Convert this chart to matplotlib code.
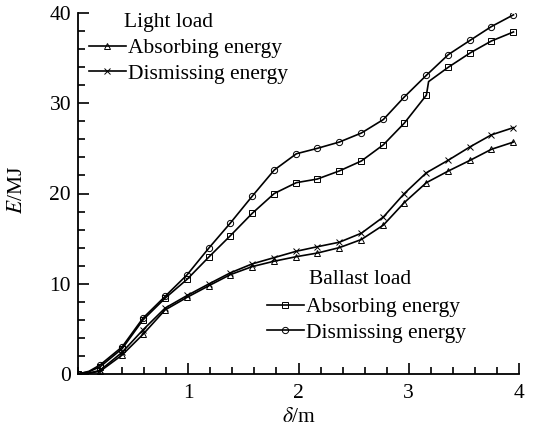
import matplotlib
matplotlib.use("Agg")
import matplotlib.pyplot as plt
from matplotlib.ticker import MultipleLocator, FixedLocator

plt.rcParams["font.family"] = ["Liberation Serif", "DejaVu Serif"]
plt.rcParams["mathtext.fontset"] = "stix"

FS = 15.5

# displacement (m) at the marked samples
delta_marks = [0.00, 0.20, 0.40, 0.59, 0.79, 0.99, 1.19, 1.38, 1.58, 1.78, 1.98,
               2.17, 2.37, 2.57, 2.77, 2.96, 3.16, 3.36, 3.56, 3.75, 3.95]

# light load
delta_light = [0.00, 0.10, 0.20, 0.40, 0.59, 0.79, 0.99, 1.19, 1.38, 1.58, 1.78, 1.98,
               2.17, 2.37, 2.57, 2.77, 2.96, 3.16, 3.36, 3.56, 3.75, 3.95]
light_absorb = [0.0, 0.1, 0.3, 2.1, 4.4, 7.1, 8.5, 9.8, 11.0, 11.9, 12.5, 13.0,
                13.4, 14.0, 14.9, 16.5, 19.0, 21.2, 22.5, 23.7, 24.9, 25.7]
light_dismiss = [0.0, 0.1, 0.4, 2.4, 4.9, 7.3, 8.7, 10.0, 11.2, 12.2, 12.9, 13.6,
                 14.1, 14.6, 15.6, 17.4, 20.0, 22.3, 23.7, 25.2, 26.5, 27.3]

# ballast load
delta_ballast_abs = [0.00, 0.10, 0.20, 0.40, 0.59, 0.79, 0.99, 1.19, 1.38, 1.58, 1.78, 1.98,
                     2.17, 2.37, 2.57, 2.77, 2.96, 3.16, 3.18, 3.36, 3.56, 3.75, 3.95]
ballast_absorb = [0.0, 0.25, 0.8, 2.8, 6.0, 8.4, 10.5, 13.0, 15.3, 17.8, 20.0, 21.2,
                  21.6, 22.5, 23.6, 25.4, 27.8, 30.9, 32.4, 34.0, 35.6, 36.9, 37.9]
delta_ballast_dis = [0.00, 0.10, 0.20, 0.40, 0.59, 0.79, 0.99, 1.19, 1.38, 1.58, 1.78, 1.98,
                     2.17, 2.37, 2.57, 2.77, 2.96, 3.16, 3.36, 3.56, 3.75, 3.95]
ballast_dismiss = [0.0, 0.3, 1.0, 3.0, 6.2, 8.6, 11.0, 14.0, 16.7, 19.7, 22.6, 24.4,
                   25.0, 25.7, 26.7, 28.2, 30.7, 33.1, 35.4, 37.0, 38.5, 39.8]

W, H = 537, 434
fig = plt.figure(figsize=(W / 100, H / 100), dpi=100)
ax = fig.add_axes([78 / W, 60 / H, (519 - 78) / W, (374 - 13) / H])


def curve(x, y, marker, ms):
    marked = set(delta_marks)
    every = [i for i, v in enumerate(x) if v in marked]
    return ax.plot(x, y, color="black", lw=1.2, marker=marker, ms=ms,
                   mfc="none", mec="black", mew=0.7, markevery=every,
                   solid_joinstyle="round")[0]


h_la = curve(delta_light, light_absorb, "^", 5)
h_ld = curve(delta_light, light_dismiss, "x", 5)
h_ba = curve(delta_ballast_abs, ballast_absorb, "s", 4.5)
h_bd = curve(delta_ballast_dis, ballast_dismiss, "o", 4.5)

ax.set_xlim(0, 4)
ax.set_ylim(0, 40)
ax.xaxis.set_major_locator(FixedLocator([1, 2, 3, 4]))
ax.xaxis.set_minor_locator(MultipleLocator(0.2))
ax.yaxis.set_major_locator(MultipleLocator(10))
ax.yaxis.set_minor_locator(MultipleLocator(2))
ax.tick_params(which="both", direction="in", width=1.2, labelsize=FS)
ax.tick_params(which="major", length=8)
ax.tick_params(which="minor", length=5)
ax.tick_params(axis="y", pad=5)
ax.tick_params(axis="x", pad=7)
for s in ("top", "right"):
    ax.spines[s].set_visible(False)
for s in ("left", "bottom"):
    ax.spines[s].set_linewidth(1.3)

fig.text(18 / W, 1 - 190 / H, r"$E$/MJ", rotation=90, ha="center", va="center", fontsize=FS)
fig.text(299 / W, 1 - 418 / H, r"$\delta$/m", ha="center", va="center", fontsize=FS)

leg_kw = dict(frameon=False, borderpad=0, borderaxespad=0, handlelength=1.7,
              handletextpad=0.12, labelspacing=0.26, fontsize=FS,
              bbox_transform=fig.transFigure, loc="upper left")

fig.text(124 / W, 1 - 23 / H, "Light load", ha="left", va="center", fontsize=FS)
leg1 = ax.legend([h_la, h_ld], ["Absorbing energy", "Dismissing energy"],
                 bbox_to_anchor=(89 / W, 1 - 38 / H), **leg_kw)
ax.add_artist(leg1)

fig.text(309 / W, 1 - 279 / H, "Ballast load", ha="left", va="center", fontsize=FS)
ax.legend([h_ba, h_bd], ["Absorbing energy", "Dismissing energy"],
          bbox_to_anchor=(267 / W, 1 - 297 / H), **leg_kw)

fig.savefig("out.png", dpi=100)
